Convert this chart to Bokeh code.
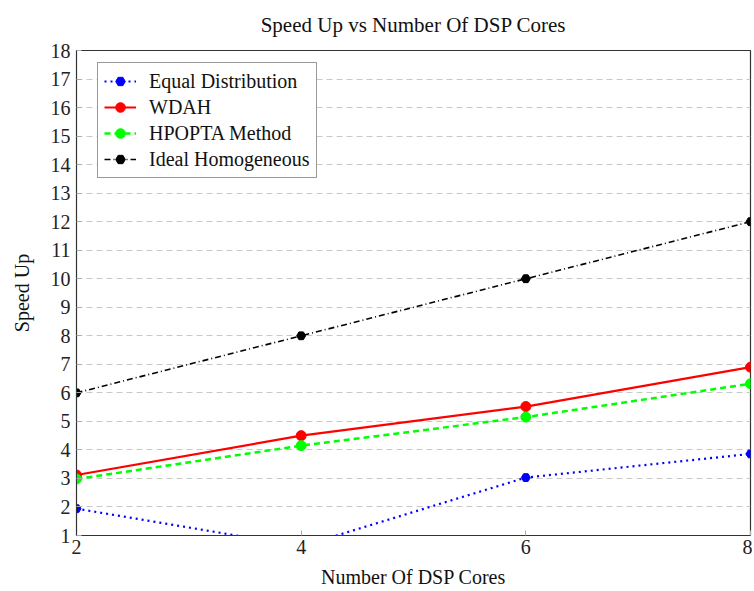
from bokeh.plotting import figure
from bokeh.models import Range1d, FixedTicker, Legend, LegendItem
from bokeh.embed import file_html
from bokeh.resources import INLINE

cores = [2, 4, 6, 8]
equal_dist = [1.94, 0.62, 3.03, 3.86]
wdah = [3.12, 4.5, 5.52, 6.9]
hpopta = [2.98, 4.15, 5.15, 6.32]
ideal = [6, 8, 10, 12]
y_ticks = list(range(1, 19))
x_ticks = [2, 4, 6, 8]
title_text = "Speed Up vs Number Of DSP Cores"

FONT = "Liberation Serif"

p = figure(width=752, height=590, output_backend="svg", toolbar_location=None,
           x_range=Range1d(2, 8), y_range=Range1d(1, 18), title=title_text,
           min_border_left=76, min_border_right=2, min_border_top=50, min_border_bottom=55)

xax = p.below[0]
yax = p.left[0]
xax.ticker = FixedTicker(ticks=x_ticks)
yax.ticker = FixedTicker(ticks=y_ticks)

p.title.align = "center"
p.title.vertical_align = "top"
p.title.text_font = FONT
p.title.text_font_size = "21px"
p.title.text_font_style = "normal"
p.title.text_color = "#111111"
p.title.offset = 0
p.title.standoff = 23

p.outline_line_color = "#333333"
p.outline_line_width = 1.2

for ax in (xax, yax):
    ax.axis_line_color = "#333333"
    ax.major_tick_in = 5
    ax.major_tick_out = 0
    ax.major_tick_line_color = "#aaaaaa"
    ax.minor_tick_line_color = None
    ax.major_label_text_font = FONT
    ax.major_label_text_font_size = "20px"
    ax.major_label_text_color = "#222222"
    ax.axis_label_text_font = FONT
    ax.axis_label_text_font_size = "20px"
    ax.axis_label_text_font_style = "normal"
    ax.axis_label_text_color = "#111111"
xax.axis_label = "Number Of DSP Cores"
yax.axis_label = "Speed Up"
xax.major_label_standoff = 4
yax.major_label_standoff = 6
xax.axis_label_standoff = 9
yax.axis_label_standoff = 15

p.xgrid.grid_line_color = None
p.ygrid.grid_line_color = "#c8c8c8"
p.ygrid.grid_line_dash = "6 4"
p.ygrid.grid_line_width = 1

series = [
    ("Equal Distribution", equal_dist, "#0000ff", "dotted", 2.2, "hex", 9),
    ("WDAH", wdah, "#ff0000", "solid", 2.2, "circle", 10),
    ("HPOPTA Method", hpopta, "#00ff00", "6 4", 2.5, "circle", 10),
    ("Ideal Homogeneous", ideal, "#000000", "6 3 1 3", 1.6, "hex", 9),
]

items = []
for name, ys, color, dash, lw, marker, size in series:
    r1 = p.line(cores, ys, line_color=color, line_width=lw, line_dash=dash)
    r2 = p.scatter(cores, ys, marker=marker, size=size, fill_color=color, line_color=color)
    items.append(LegendItem(label=name, renderers=[r1, r2]))

legend = Legend(items=items, location=(21, 357))
legend.margin = 0
legend.label_text_font = FONT
legend.label_text_font_size = "20px"
legend.label_text_color = "#111111"
legend.glyph_width = 32
legend.glyph_height = 24
legend.label_height = 24
legend.spacing = 2
legend.padding = 6
legend.label_standoff = 13
legend.border_line_color = "#333333"
legend.border_line_width = 1.2
legend.background_fill_alpha = 1
p.add_layout(legend, "center")

open("out.html", "w").write(file_html(p, INLINE))
